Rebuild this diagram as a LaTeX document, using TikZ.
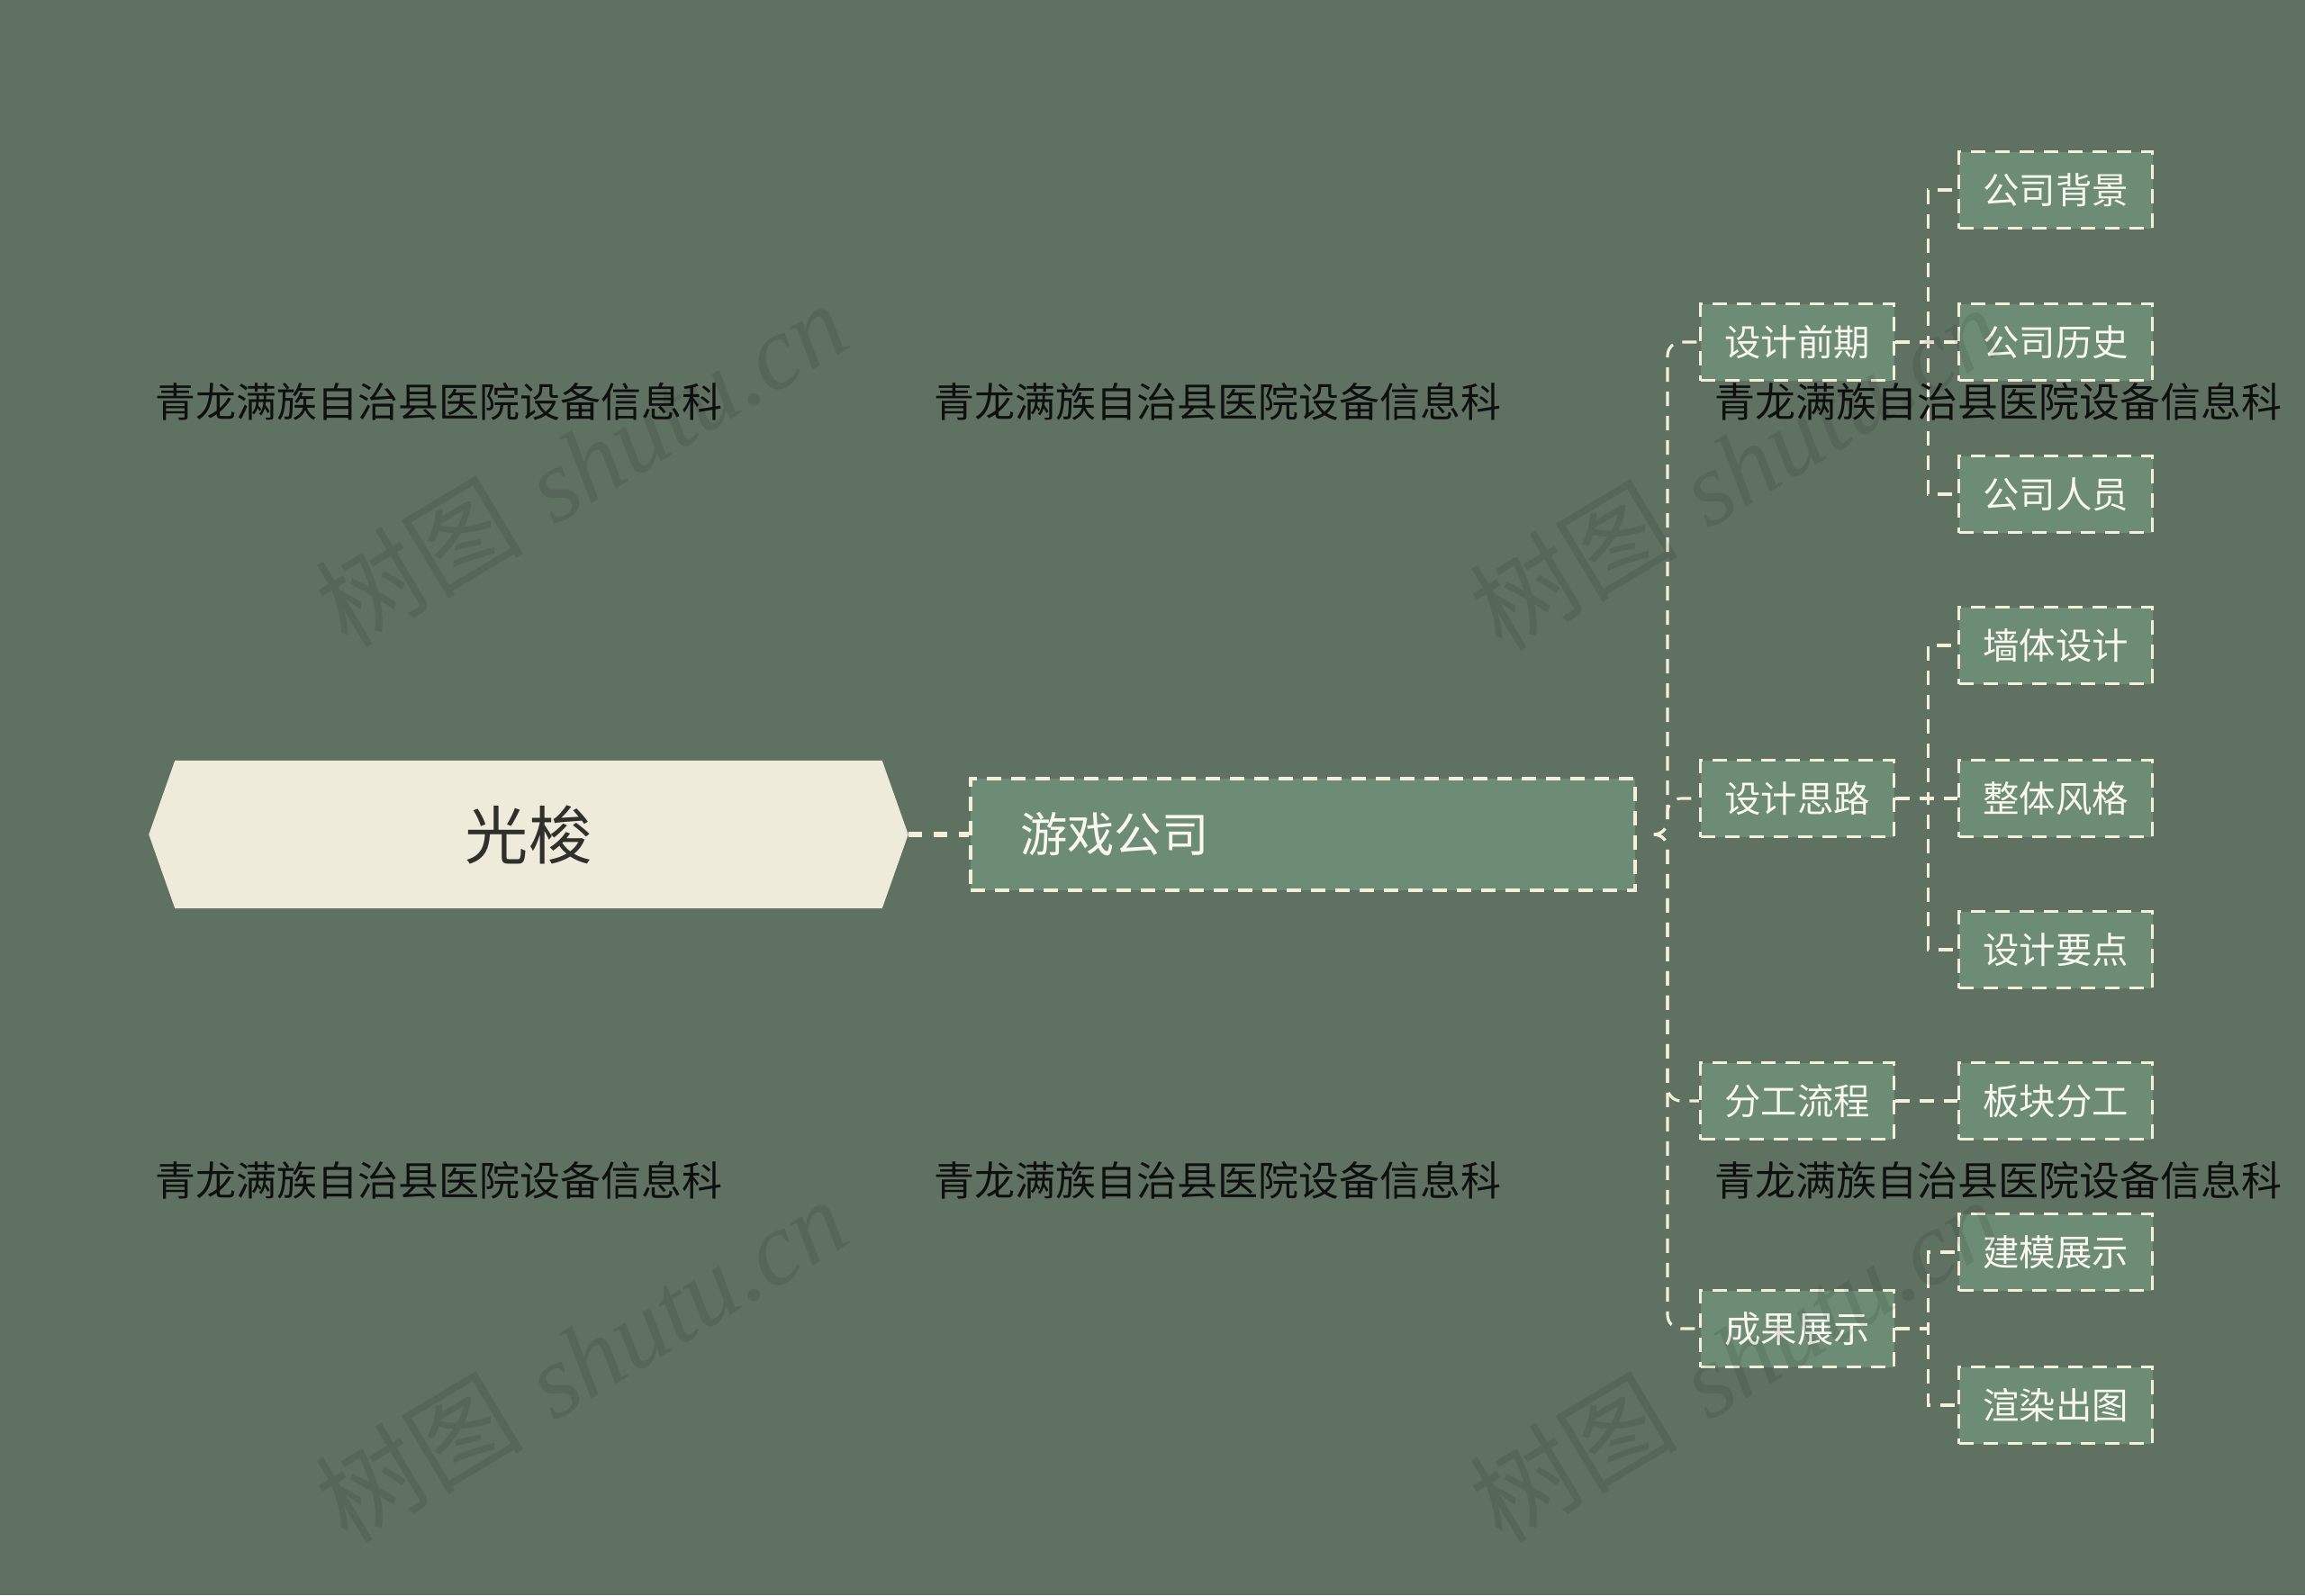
\documentclass[tikz,border=0pt]{standalone}
\usepackage{fontspec}
\usepackage{xcolor}
\usepackage{tikz}
\usetikzlibrary{positioning,calc,backgrounds}
\newfontfamily\cjk{Noto Sans CJK SC}
\newfontfamily\wmserif{Liberation Serif}
\definecolor{cBg}{HTML}{5F7262}
\definecolor{cRootF}{HTML}{EFEBDA}
\definecolor{cRootT}{HTML}{2F2F2B}
\definecolor{cBoxF}{HTML}{6C8C75}
\definecolor{cDash}{HTML}{F3EFD8}
\definecolor{cBoxT}{HTML}{FAF8EE}
\definecolor{cNote}{HTML}{0E0F0E}

\begin{document}
\begin{tikzpicture}[x=1cm,y=1cm,
  dsh/.style={draw=cDash,line width=0.9pt,dash pattern=on 0.16cm off 0.11cm},
  rootbox/.style={minimum width=8.42cm,minimum height=1.63cm,inner sep=0pt,
    font=\cjk\fontsize{20}{24}\selectfont,text=cRootT},
  mainbox/.style={dsh,fill=cBoxF,minimum height=1.24cm,text width=6.28cm,
    inner xsep=0.55cm,align=left,font=\cjk\fontsize{14.9}{18}\selectfont,text=cBoxT},
  leaf/.style={dsh,fill=cBoxF,minimum width=2.15cm,minimum height=0.85cm,
    inner sep=0pt,font=\cjk\fontsize{11.5}{14}\selectfont,text=cBoxT},
  link/.style={dsh,rounded corners=0.15cm},
  note/.style={font=\cjk\fontsize{12.8}{15}\selectfont,text=cNote,anchor=west,
    inner sep=0pt},
  wm/.style={font=\fontsize{33}{40}\selectfont,text=black,text opacity=0.09,
    rotate=31,inner sep=0pt}]

  \useasboundingbox (0,0) rectangle (25.60,-17.72);

  % root and main topic
  \node[rootbox] (root) at (5.87,-9.27) {光梭};
  \node[mainbox] (main) at (14.47,-9.27) {游戏公司};

  \begin{scope}[on background layer]
    \fill[cBg] (0,0) rectangle (25.60,-17.72);
    \fill[cRootF] (root.west) -- ([xshift=0.29cm]root.north west)
      -- ([xshift=-0.29cm]root.north east) -- (root.east)
      -- ([xshift=-0.29cm]root.south east) -- ([xshift=0.29cm]root.south west) -- cycle;
  \end{scope}

  \draw[dsh,line width=1.5pt,dash pattern=on 0.15cm off 0.13cm] (root.east) -- (main.west);

  % second level
  \foreach \n/\y/\t in {early/3.80/设计前期,idea/8.87/设计思路,
      split/12.23/分工流程,show/14.76/成果展示}
    {\node[leaf] (\n) at (19.96,-\y) {\t};}

  % third level
  \foreach \n/\y/\t in {bg/2.11/公司背景,hist/3.80/公司历史,staff/5.49/公司人员,
      wall/7.17/墙体设计,look/8.87/整体风格,keys/10.55/设计要点,
      block/12.23/板块分工,model/13.91/建模展示,render/15.61/渲染出图}
    {\node[leaf] (\n) at (22.83,-\y) {\t};}

  \coordinate (hub) at ([xshift=0.21cm]main.east);
  \foreach \n in {early,idea,split,show}
    {\draw[link] (hub) -- (18.52,-9.27) |- (\n.west);}

  \foreach \p/\c in {early/bg,early/hist,early/staff,idea/wall,idea/look,
      idea/keys,split/block,show/model,show/render}
    {\draw[dsh] (\p.east) -- ++(0.36,0) |- (\c.west);}

  % notes
  \foreach \x/\y [count=\i] in {1.72/4.46,10.37/4.46,19.04/4.46,
      1.72/13.11,10.37/13.11,19.04/13.11}
    {\node[note] (note\i) at (\x,-\y) {青龙满族自治县医院设备信息科};}

  % watermarks
  \foreach \x/\y [count=\i] in {6.45/5.15,19.27/5.19,6.45/15.10,19.27/15.10}
    {\node[wm] (wm\i) at (\x,-\y) {{\cjk 树图} {\wmserif\itshape shutu.cn}};}
\end{tikzpicture}
\end{document}
